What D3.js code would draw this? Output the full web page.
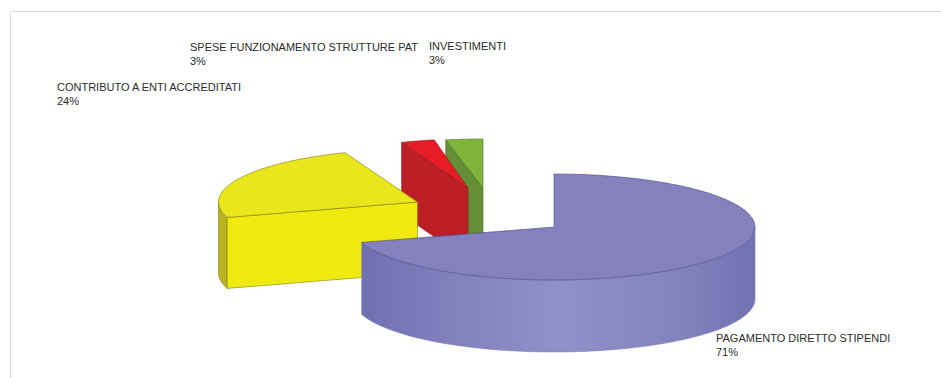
<!DOCTYPE html>
<html>
<head>
<meta charset="utf-8">
<script src="https://cdnjs.cloudflare.com/ajax/libs/d3/7.8.5/d3.min.js"></script>
<style>
html,body{margin:0;padding:0;background:#fff}
svg{display:block}
text{font-family:"Liberation Sans",Arial,sans-serif;font-size:11px;fill:#2b2b2b}
</style>
</head>
<body>
<div id="chart"></div>
<script>
// Spending shares, in drawing order around the pie (clockwise from twelve o'clock)
const categories = ["PAGAMENTO DIRETTO STIPENDI", "CONTRIBUTO A ENTI ACCREDITATI", "SPESE FUNZIONAMENTO STRUTTURE PAT", "INVESTIMENTI"];
const shares = [71, 24, 3, 3];
const shareLabels = ["71%", "24%", "3%", "3%"];

// Appearance of each slice: top face, radial side face, outer wall
const topColors = ["#8581bf", "#e9e61c", "#e71d26", "#7fb43a"];
const sideColors = ["#8581bf", "#f1ea0f", "#bd1f26", "#658f36"];
const wallColors = ["#8581bf", "#b9b324", "#bd1f26", "#658f36"];
const strokeColors = ["#45457f", "#7f7c1a", "#8c1a1f", "#4d6e2b"];

// Pixel position of each slice's centre on the top plane, its foreshortened radii, and its label
const centresX = [554, 417.5, 468, 483];
const centresY = [227, 202, 188, 188];
const radiiX = [201, 199, 182, 201];
const radiiY = [53, 53, 49, 49];
const depths = [72, 71, 72, 72];
const labelX = [716, 57, 190, 429];
const labelY = [342, 91, 51, 50];

const width = 941, height = 378;

const svg = d3.select("#chart").append("svg").attr("width", width).attr("height", height);

// Outer wall shading of the large slice, in that slice's own coordinates
const grad = svg.append("defs").append("linearGradient")
  .attr("id", "wallShade").attr("gradientUnits", "userSpaceOnUse")
  .attr("x1", -192).attr("x2", 201).attr("y1", 0).attr("y2", 0);
[[0, "#6f70b0"], [0.2, "#7f7fbc"], [0.5, "#9190c9"], [0.8, "#8383be"], [1, "#7172b1"]]
  .forEach(([o, c]) => grad.append("stop").attr("offset", o).attr("stop-color", c));

// Chart frame
svg.append("path")
  .attr("d", d3.line()([[10.5, height], [10.5, 11.5], [width, 11.5]]))
  .attr("fill", "none").attr("stroke", "#dcdcdc").attr("stroke-width", 1);

const pie = d3.pie().sort(null).startAngle(0).endAngle(2 * Math.PI);
const arcs = pie(shares);
const line = d3.line();

// Back slices first so nearer ones overlap them
[3, 2, 1, 0].forEach(i => {
  const { startAngle: a0, endAngle: a1 } = arcs[i];
  const depth = depths[i];

  // Projection of the unit circle onto the tilted plane for this slice
  const projX = d3.scaleLinear().domain([-1, 1]).range([-radiiX[i], radiiX[i]]);
  const projY = d3.scaleLinear().domain([-1, 1]).range([-radiiY[i], radiiY[i]]);
  const onRim = a => [projX(Math.sin(a)), projY(-Math.cos(a))];
  const rim = (from, to) => d3.range(0, 61).map(k => onRim(from + (to - from) * k / 60));

  const g = svg.append("g").attr("transform", `translate(${centresX[i]},${centresY[i]})`);
  const stroke = strokeColors[i];

  // Outer wall, only where the rim faces the viewer
  const w0 = Math.max(a0, Math.PI / 2), w1 = Math.min(a1, 3 * Math.PI / 2);
  if (w1 > w0) {
    const upper = rim(w0, w1);
    const lower = upper.map(([x, y]) => [x, y + depth]).reverse();
    g.append("path").attr("d", line(upper.concat(lower)) + "Z")
      .attr("fill", i === 0 ? "url(#wallShade)" : wallColors[i])
      .attr("stroke", i === 0 ? "#7d7db8" : stroke).attr("stroke-width", 0.6);
  }

  // Radial side face turned towards the viewer (the large slice hides its own)
  if (i !== 0) {
    const [px, py] = onRim(a0);
    g.append("path")
      .attr("d", line([[0, 0], [px, py], [px, py + depth], [0, depth]]) + "Z")
      .attr("fill", sideColors[i]).attr("stroke", stroke).attr("stroke-width", 0.6);
  }

  // Top face
  g.append("path")
    .attr("d", line([[0, 0]].concat(rim(a0, a1))) + "Z")
    .attr("fill", topColors[i]).attr("stroke", stroke).attr("stroke-width", 0.6);
});

// Two-line category and percentage labels
categories.forEach((name, i) => {
  const t = svg.append("text").attr("x", labelX[i]).attr("y", labelY[i]);
  t.append("tspan").text(name);
  t.append("tspan").attr("x", labelX[i]).attr("dy", 14).text(shareLabels[i]);
});
</script>
</body>
</html>
